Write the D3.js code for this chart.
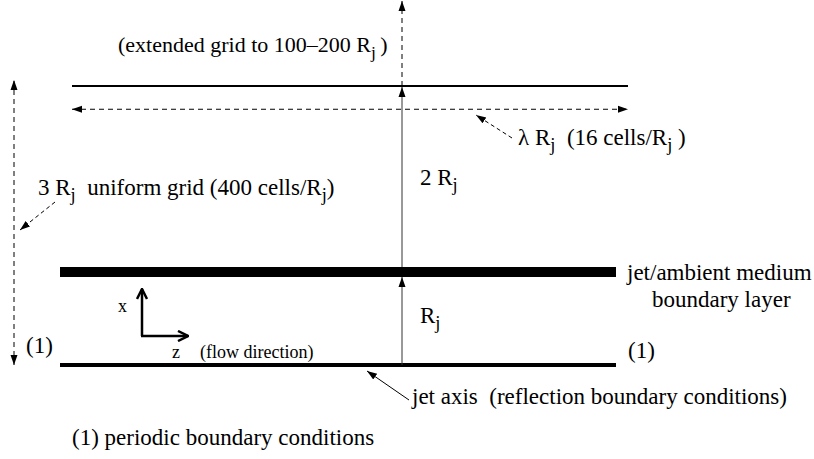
<!DOCTYPE html>
<html>
<head>
<meta charset="utf-8">
<script src="https://cdn.jsdelivr.net/npm/d3@7"></script>
<style>
  body { margin: 0; background: #fff; }
  text { font-family: "Liberation Serif", "Times New Roman", serif; fill: #000; }
</style>
</head>
<body>
<svg width="814" height="459"></svg>
<script>
// heights in units of R_j
var levels = [0, 1, 3];             // jet axis, boundary layer, outer grid edge
var levelWidths = [4, 10, 2];       // line weight of each level
var dashedLevel = 2.75;             // lambda R_j period arrow
var radiusArrows = [[0, 1], [1, 3]];

var svg = d3.select("svg");

var y = d3.scaleLinear().domain([0, 3]).range([365, 86]);
var xInner = d3.scaleLinear().domain([0, 1]).range([60, 616]);  // one wavelength lambda
var xOuter = d3.scaleLinear().domain([0, 1]).range([72, 628]);
var xMid = 402;

var defs = svg.append("defs");
defs.append("marker")
    .attr("id", "head")
    .attr("viewBox", "0 0 10 10")
    .attr("refX", 10).attr("refY", 5)
    .attr("markerWidth", 10).attr("markerHeight", 10)
    .attr("markerUnits", "userSpaceOnUse")
    .attr("orient", "auto-start-reverse")
  .append("path")
    .attr("d", "M0,1.5 L10,5 L0,8.5 Z")
    .attr("fill", "#000");
defs.append("marker")
    .attr("id", "open")
    .attr("viewBox", "0 0 12 12")
    .attr("refX", 11).attr("refY", 6)
    .attr("markerWidth", 12).attr("markerHeight", 12)
    .attr("markerUnits", "userSpaceOnUse")
    .attr("orient", "auto")
  .append("path")
    .attr("d", "M1,1 L11,6 L1,11")
    .attr("fill", "none")
    .attr("stroke", "#000")
    .attr("stroke-width", 2.5);

// horizontal levels
svg.selectAll(".level")
    .data(levels)
  .enter().append("line")
    .attr("class", "level")
    .attr("x1", function(d) { return d === 3 ? xOuter(0) : xInner(0); })
    .attr("x2", function(d) { return d === 3 ? xOuter(1) : xInner(1); })
    .attr("y1", function(d) { return y(d); })
    .attr("y2", function(d) { return y(d); })
    .attr("stroke", "#000")
    .attr("stroke-width", function(d, i) { return levelWidths[i]; });

// lambda R_j period (dashed, both ends)
svg.append("line")
    .attr("x1", xOuter(0)).attr("x2", xOuter(1))
    .attr("y1", y(dashedLevel)).attr("y2", y(dashedLevel))
    .attr("stroke", "#000").attr("stroke-width", 1)
    .attr("stroke-dasharray", "5,4")
    .attr("marker-start", "url(#head)")
    .attr("marker-end", "url(#head)");

// radius arrows
svg.selectAll(".radius")
    .data(radiusArrows)
  .enter().append("line")
    .attr("class", "radius")
    .attr("x1", xMid).attr("x2", xMid)
    .attr("y1", function(d) { return y(d[0]) - (d[0] === 1 ? 5 : 0); })
    .attr("y2", function(d) { return y(d[1]) + (d[1] === 1 ? 5 : 1); })
    .attr("stroke", "#333").attr("stroke-width", 1)
    .attr("marker-end", "url(#head)");

// extended grid (dashed up)
svg.append("line")
    .attr("x1", xMid).attr("x2", xMid)
    .attr("y1", y(3)).attr("y2", 1)
    .attr("stroke", "#000").attr("stroke-width", 1)
    .attr("stroke-dasharray", "5,4")
    .attr("marker-end", "url(#head)");

// 3 R_j extent on the left
svg.append("line")
    .attr("x1", 14).attr("x2", 14)
    .attr("y1", y(0)).attr("y2", y(3) - 6)
    .attr("stroke", "#000").attr("stroke-width", 1)
    .attr("stroke-dasharray", "5,4")
    .attr("marker-start", "url(#head)")
    .attr("marker-end", "url(#head)");

// pointer arrows
var pointers = [
  {x1: 55, y1: 202, x2: 20, y2: 230, dash: "4,3"},
  {x1: 512, y1: 138, x2: 476, y2: 115, dash: "4,3"},
  {x1: 409, y1: 400, x2: 367, y2: 371, dash: null}
];
svg.selectAll(".pointer")
    .data(pointers)
  .enter().append("line")
    .attr("class", "pointer")
    .attr("x1", function(d) { return d.x1; })
    .attr("y1", function(d) { return d.y1; })
    .attr("x2", function(d) { return d.x2; })
    .attr("y2", function(d) { return d.y2; })
    .attr("stroke", "#000").attr("stroke-width", 1)
    .attr("stroke-dasharray", function(d) { return d.dash; })
    .attr("marker-end", "url(#head)");

// coordinate axes
svg.append("path")
    .attr("d", "M142,336 L142,289")
    .attr("stroke", "#000").attr("stroke-width", 2.5).attr("fill", "none")
    .attr("marker-end", "url(#open)");
svg.append("path")
    .attr("d", "M141,336 L188,336")
    .attr("stroke", "#000").attr("stroke-width", 2.5).attr("fill", "none")
    .attr("marker-end", "url(#open)");

// labels: parts [text, isSubscript]
var labels = [
  {x: 118, y: 52, size: 22, parts: [["(extended grid to 100\u2013200 R", 0], ["j", 1], ["\u2009)", 0]]},
  {x: 38, y: 195, size: 23, parts: [["3 R", 0], ["j", 1], ["  uniform grid (400 cells/R", 0], ["j", 1], [")", 0]]},
  {x: 518, y: 145, size: 23, parts: [["\u03bb R", 0], ["j", 1], ["  (16 cells/R", 0], ["j", 1], [" )", 0]]},
  {x: 420, y: 185, size: 23, parts: [["2 R", 0], ["j", 1]]},
  {x: 420, y: 323, size: 23, parts: [["R", 0], ["j", 1]]},
  {x: 627, y: 280, size: 23, parts: [["jet/ambient medium", 0]]},
  {x: 652, y: 307, size: 23, parts: [["boundary layer", 0]]},
  {x: 628, y: 358, size: 23, parts: [["(1)", 0]]},
  {x: 26, y: 353, size: 23, parts: [["(1)", 0]]},
  {x: 412, y: 404, size: 23, parts: [["jet axis  (reflection boundary conditions)", 0]]},
  {x: 72, y: 445, size: 23, parts: [["(1) periodic boundary conditions", 0]]},
  {x: 118, y: 312, size: 18, parts: [["x", 0]]},
  {x: 172, y: 358, size: 18, parts: [["z", 0]]},
  {x: 200, y: 358, size: 18, parts: [["(flow direction)", 0]]}
];

var text = svg.selectAll(".label")
    .data(labels)
  .enter().append("text")
    .attr("class", "label")
    .attr("x", function(d) { return d.x; })
    .attr("y", function(d) { return d.y; })
    .attr("font-size", function(d) { return d.size; })
    .attr("xml:space", "preserve")
    .style("white-space", "pre");

text.each(function(d) {
  var t = d3.select(this), prev = 0;
  d.parts.forEach(function(p) {
    var shift = p[1] ? 6 : 0;
    t.append("tspan")
        .attr("dy", shift - prev)
        .attr("font-size", p[1] ? d.size * 0.8 : d.size)
        .text(p[0]);
    prev = shift;
  });
});
</script>
</body>
</html>
